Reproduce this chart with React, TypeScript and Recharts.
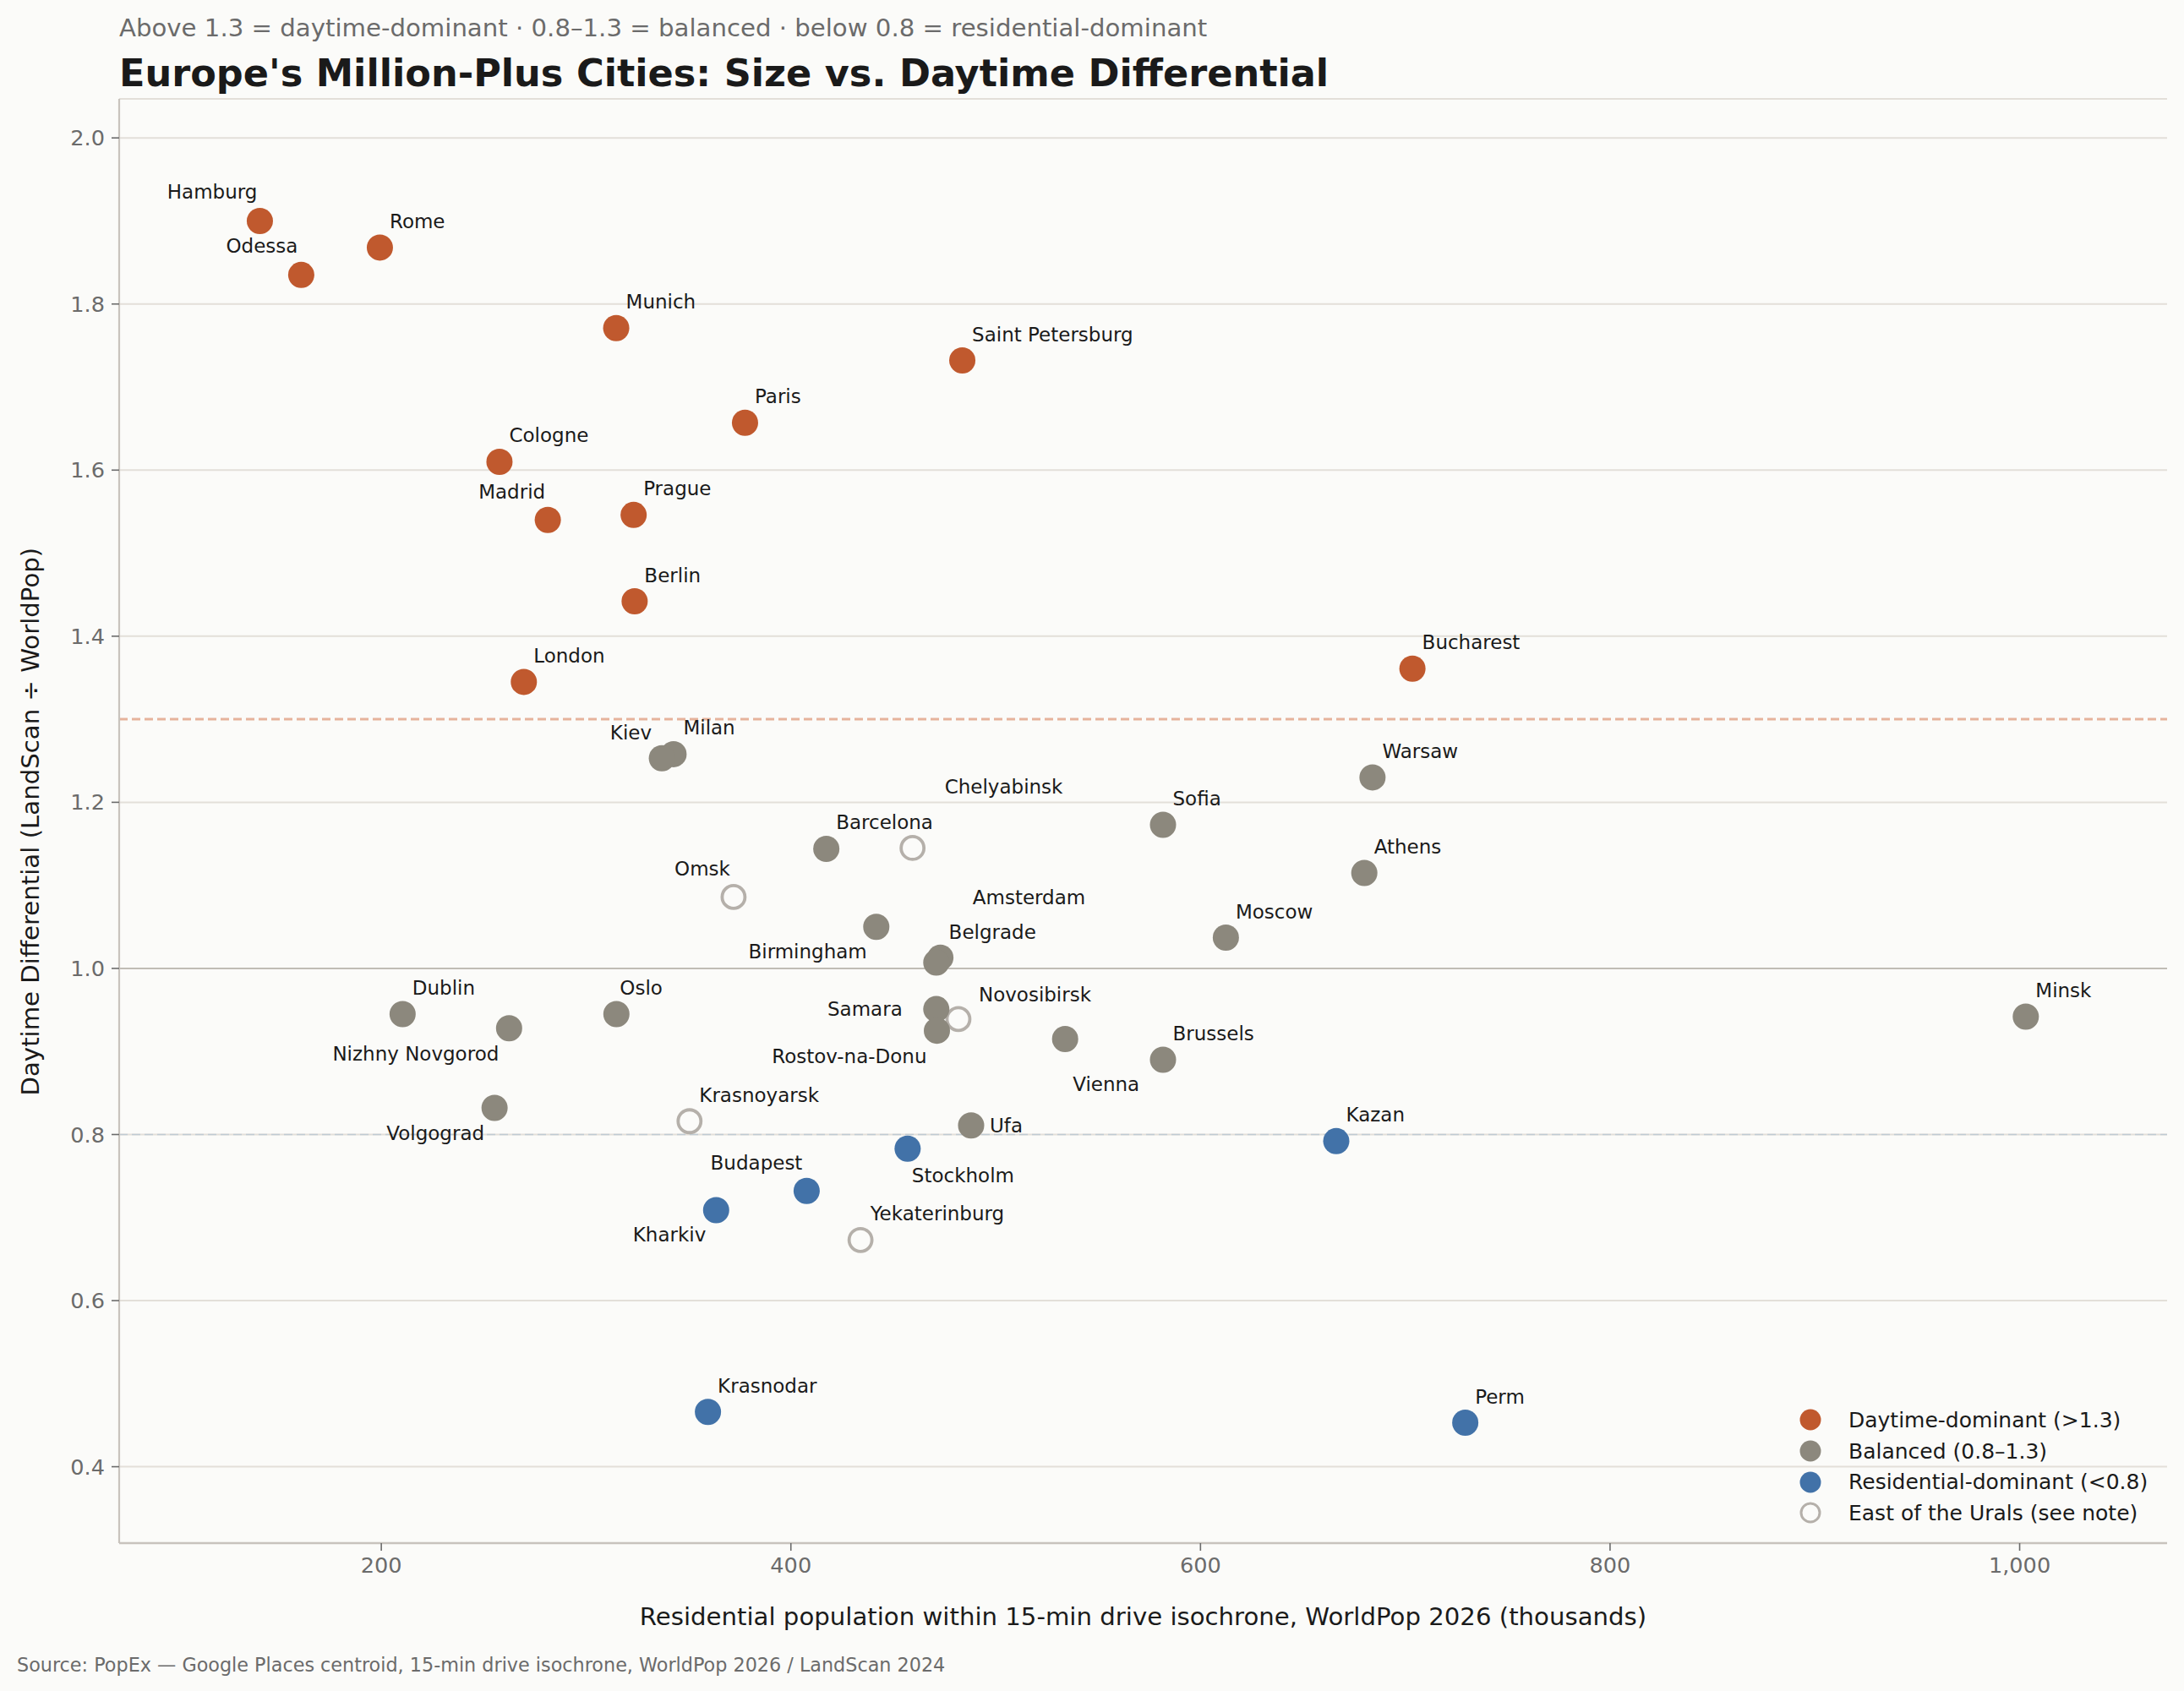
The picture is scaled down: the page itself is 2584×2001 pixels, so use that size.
import React from 'react';
import { ScatterChart, Scatter, XAxis, YAxis, CartesianGrid, ReferenceLine, Legend } from 'recharts';

const WIDTH = 2584;
const HEIGHT = 2001;

const xTicks = [200, 400, 600, 800, 1000];
const yTicks = [0.4, 0.6, 0.8, 1.0, 1.2, 1.4, 1.6, 1.8, 2.0];

// values: residential pop (thousands), differential
const daytimeNames = ['Hamburg', 'Rome', 'Odessa', 'Munich', 'Saint Petersburg', 'Paris', 'Cologne', 'Madrid', 'Prague', 'Berlin', 'London', 'Bucharest'];
const daytimeX = [140.7, 199.3, 160.9, 314.7, 483.7, 377.6, 257.7, 281.3, 323.2, 323.7, 269.6, 703.5];
const daytimeY = [1.9, 1.868, 1.835, 1.771, 1.732, 1.657, 1.61, 1.54, 1.546, 1.442, 1.345, 1.361];

const balancedNames = ['Milan', 'Kiev', 'Warsaw', 'Sofia', 'Barcelona', 'Athens', 'Amsterdam', 'Moscow', 'Belgrade', 'Birmingham', 'Minsk', 'Dublin', 'Oslo', 'Samara', 'Rostov-na-Donu', 'Vienna', 'Nizhny Novgorod', 'Volgograd', 'Brussels', 'Ufa'];
const balancedX = [342.7, 337, 684, 581.7, 417.3, 680, 441.7, 612.4, 473, 471, 1003, 210.4, 314.8, 471, 471.3, 533.9, 262.4, 255.3, 581.7, 488];
const balancedY = [1.258, 1.253, 1.23, 1.173, 1.144, 1.115, 1.05, 1.037, 1.013, 1.007, 0.942, 0.945, 0.945, 0.951, 0.925, 0.915, 0.928, 0.832, 0.89, 0.811];

const residentialNames = ['Kazan', 'Stockholm', 'Budapest', 'Kharkiv', 'Krasnodar', 'Perm'];
const residentialX = [666.3, 457, 407.7, 363.5, 359.5, 729.3];
const residentialY = [0.792, 0.783, 0.732, 0.709, 0.466, 0.453];

const uralsNames = ['Chelyabinsk', 'Omsk', 'Novosibirsk', 'Krasnoyarsk', 'Yekaterinburg'];
const uralsX = [459.4, 372, 481.8, 350.5, 434];
const uralsY = [1.145, 1.086, 0.939, 0.816, 0.673];

const legendLabels = ['Daytime-dominant (>1.3)', 'Balanced (0.8–1.3)', 'Residential-dominant (<0.8)', 'East of the Urals (see note)'];
const legendColors = ['#c0592e', '#8c887d', '#4272a8', '#b5b0aa'];

// label placement relative to the marker, [dx, dy, anchor]; default is up and to the right
const labelOffsets: Record<string, [number, number, string]> = {
  Hamburg: [-3, -34, 'end'],
  Odessa: [-4, -34, 'end'],
  Madrid: [-3, -33, 'end'],
  Kiev: [-12, -30, 'end'],
  Chelyabinsk: [38, -72, 'start'],
  Omsk: [-4, -33, 'end'],
  Amsterdam: [114, -35, 'start'],
  Belgrade: [10, -30, 'start'],
  Birmingham: [-82, -13, 'end'],
  Oslo: [4, -31, 'start'],
  Samara: [-40, 0, 'end'],
  Novosibirsk: [24, -29, 'start'],
  'Rostov-na-Donu': [-12, 30, 'end'],
  Vienna: [9, 54, 'start'],
  'Nizhny Novgorod': [-12, 30, 'end'],
  Volgograd: [-12, 30, 'end'],
  Ufa: [22, 0, 'start'],
  Stockholm: [5, 32, 'start'],
  Budapest: [-5, -33, 'end'],
  Kharkiv: [-12, 29, 'end'],
};

const makeRows = (names: string[], xs: number[], ys: number[]) =>
  names.map((name, i) => ({ name, x: xs[i], y: ys[i] }));

const FONT = '"DejaVu Sans", sans-serif';

const CityDot = ({ cx, cy, payload, fill, hollow }: any) => {
  const [dx, dy, anchor] = labelOffsets[payload.name] || [11.5, -31, 'start'];
  return (
    <g>
      {hollow ? (
        <circle cx={cx} cy={cy} r={13.5} fill="none" stroke={fill} strokeWidth={3.8} />
      ) : (
        <circle cx={cx} cy={cy} r={15.5} fill={fill} />
      )}
      <text x={cx + dx} y={cy + dy} textAnchor={anchor} dominantBaseline="central" fontSize={23} fill="#1a1a1a" fontFamily={FONT}>
        {payload.name}
      </text>
    </g>
  );
};

const LegendBox = () => (
  <div style={{ fontFamily: FONT, fontSize: 25, color: '#1a1a1a' }}>
    {legendLabels.map((label, i) => (
      <div key={label} style={{ display: 'flex', alignItems: 'center', height: 36.7 }}>
        <svg width={28} height={28} style={{ marginRight: 31 }}>
          {i === 3 ? (
            <circle cx={14} cy={14} r={11} fill="none" stroke={legendColors[i]} strokeWidth={3} />
          ) : (
            <circle cx={14} cy={14} r={12.5} fill={legendColors[i]} />
          )}
        </svg>
        <span style={{ whiteSpace: 'nowrap' }}>{label}</span>
      </div>
    ))}
  </div>
);

export default function App() {
  return (
    <div style={{ position: 'absolute', left: 0, top: 0, width: WIDTH, height: HEIGHT, background: '#fbfbf9', fontFamily: FONT, overflow: 'hidden' }}>
      <div style={{ position: 'absolute', left: 141, top: 16, fontSize: 29.2, color: '#6b6b6b', whiteSpace: 'nowrap' }}>
        Above 1.3 = daytime-dominant · 0.8–1.3 = balanced · below 0.8 = residential-dominant
      </div>
      <div style={{ position: 'absolute', left: 141, top: 61, fontSize: 44.6, fontWeight: 700, color: '#1a1a1a', whiteSpace: 'nowrap' }}>
        Europe's Million-Plus Cities: Size vs. Daytime Differential
      </div>
      <ScatterChart width={WIDTH} height={HEIGHT} margin={{ top: 117, right: 20, bottom: 0, left: 0 }} style={{ position: 'absolute', left: 0, top: 0 }}>
        <CartesianGrid horizontal vertical={false} stroke="#e3dfd9" strokeWidth={2} />
        <XAxis
          type="number"
          dataKey="x"
          domain={[72, 1072]}
          ticks={xTicks}
          allowDataOverflow
          height={175}
          tickFormatter={(v: number) => v.toLocaleString('en-US')}
          tick={{ fontSize: 25.6, fill: '#6b6b6b', fontFamily: FONT }}
          tickSize={9}
          tickMargin={8}
          tickLine={{ stroke: '#6b6b6b', strokeWidth: 1.6 }}
          axisLine={{ stroke: '#c8c3bd', strokeWidth: 2.6 }}
          label={{ value: 'Residential population within 15-min drive isochrone, WorldPop 2026 (thousands)', position: 'insideTop', dy: 71, fontSize: 29.2, fill: '#1a1a1a', fontFamily: FONT }}
        />
        <YAxis
          type="number"
          dataKey="y"
          domain={[0.308, 2.047]}
          ticks={yTicks}
          allowDataOverflow
          width={141}
          tickFormatter={(v: number) => v.toFixed(1)}
          tick={{ fontSize: 25.6, fill: '#6b6b6b', fontFamily: FONT }}
          tickSize={9}
          tickMargin={8}
          tickLine={{ stroke: '#6b6b6b', strokeWidth: 1.6 }}
          axisLine={{ stroke: '#c8c3bd', strokeWidth: 2.2 }}
          label={{ value: 'Daytime Differential (LandScan ÷ WorldPop)', angle: -90, position: 'insideLeft', dx: 31, dy: 325, fontSize: 29.2, fill: '#1a1a1a', fontFamily: FONT }}
        />
        <ReferenceLine y={1.0} stroke="#b5b1a8" strokeWidth={1.6} />
        <ReferenceLine y={1.3} stroke="#e6b39c" strokeWidth={3} strokeDasharray="10 5" />
        <ReferenceLine y={0.8} stroke="#bfcbd3" strokeWidth={1.6} strokeDasharray="10 5" />
        <Scatter data={makeRows(uralsNames, uralsX, uralsY)} isAnimationActive={false} shape={(p: any) => <CityDot {...p} fill={legendColors[3]} hollow />} />
        <Scatter data={makeRows(daytimeNames, daytimeX, daytimeY)} isAnimationActive={false} shape={(p: any) => <CityDot {...p} fill={legendColors[0]} />} />
        <Scatter data={makeRows(balancedNames, balancedX, balancedY)} isAnimationActive={false} shape={(p: any) => <CityDot {...p} fill={legendColors[1]} />} />
        <Scatter data={makeRows(residentialNames, residentialX, residentialY)} isAnimationActive={false} shape={(p: any) => <CityDot {...p} fill={legendColors[2]} />} />
        <Legend layout="vertical" align="center" verticalAlign="middle" content={<LegendBox />} wrapperStyle={{ position: 'absolute', left: 2128, top: 1662, width: 440, height: 150 }} />
      </ScatterChart>
      <div style={{ position: 'absolute', left: 20, top: 1957, fontSize: 22.3, color: '#6b6b6b', whiteSpace: 'nowrap' }}>
        Source: PopEx — Google Places centroid, 15-min drive isochrone, WorldPop 2026 / LandScan 2024
      </div>
    </div>
  );
}
